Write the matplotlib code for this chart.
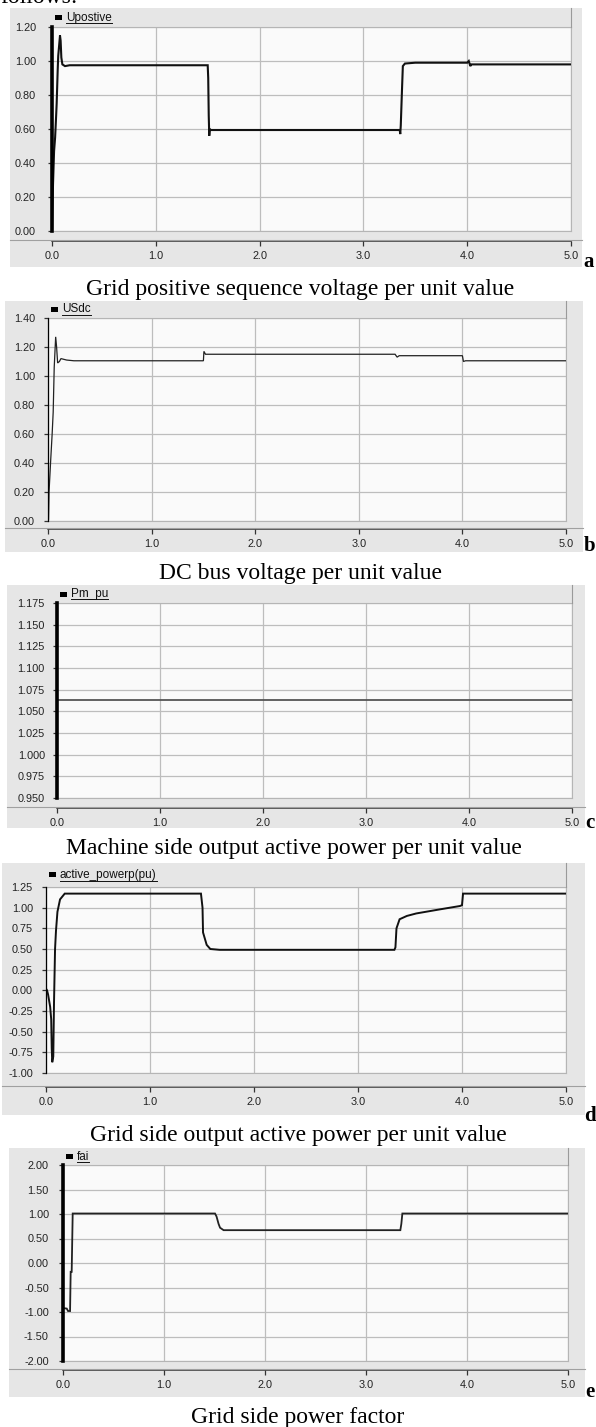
import matplotlib
matplotlib.use('Agg')
import matplotlib.pyplot as plt
from matplotlib.patches import Rectangle
from matplotlib.lines import Line2D

# ---------------- data ----------------
panel_letters = ['a', 'b', 'c', 'd', 'e']
series_names = ['Upostive', 'USdc', 'Pm_pu', 'active_powerp(pu)', 'fai']
captions = ['Grid positive sequence voltage per unit value',
            'DC bus voltage per unit value',
            'Machine side output active power per unit value',
            'Grid side output active power per unit value',
            'Grid side power factor']

x_ticks = [0.0, 1.0, 2.0, 3.0, 4.0, 5.0]
x_tick_labels = ['0.0', '1.0', '2.0', '3.0', '4.0', '5.0']

yticks_a = [0.0, 0.2, 0.4, 0.6, 0.8, 1.0, 1.2]
ylabels_a = ['0.00', '0.20', '0.40', '0.60', '0.80', '1.00', '1.20']
yticks_b = [0.0, 0.2, 0.4, 0.6, 0.8, 1.0, 1.2, 1.4]
ylabels_b = ['0.00', '0.20', '0.40', '0.60', '0.80', '1.00', '1.20', '1.40']
yticks_c = [0.950, 0.975, 1.000, 1.025, 1.050, 1.075, 1.100, 1.125, 1.150, 1.175]
ylabels_c = ['0.950', '0.975', '1.000', '1.025', '1.050', '1.075', '1.100', '1.125', '1.150', '1.175']
yticks_d = [-1.0, -0.75, -0.5, -0.25, 0.0, 0.25, 0.5, 0.75, 1.0, 1.25]
ylabels_d = ['-1.00', '-0.75', '-0.50', '-0.25', '0.00', '0.25', '0.50', '0.75', '1.00', '1.25']
yticks_e = [-2.0, -1.5, -1.0, -0.5, 0.0, 0.5, 1.0, 1.5, 2.0]
ylabels_e = ['-2.00', '-1.50', '-1.00', '-0.50', '0.00', '0.50', '1.00', '1.50', '2.00']

# Upostive (grid positive sequence voltage, pu)
t_a = [0.0, 0.003, 0.01, 0.02, 0.03, 0.04, 0.045, 0.05, 0.055, 0.06, 0.07, 0.077, 0.083,
       0.09, 0.10, 0.125, 0.17, 1.50, 1.505, 1.51, 1.515, 1.52, 1.53, 3.35, 3.355,
       3.36, 3.37, 3.38, 3.40, 3.50, 4.00, 4.015, 4.03, 4.04, 5.0]
u_a = [0.0, 0.10, 0.28, 0.47, 0.55, 0.68, 0.75, 0.85, 0.95, 1.03, 1.10, 1.15, 1.12,
       1.02, 0.98, 0.97, 0.975, 0.975, 0.90, 0.68, 0.56, 0.60, 0.594, 0.594, 0.57,
       0.62, 0.80, 0.97, 0.985, 0.99, 0.99, 1.00, 0.97, 0.98, 0.98]

# USdc (DC bus voltage, pu)
t_b = [0.0, 0.005, 0.01, 0.026, 0.04, 0.05, 0.06, 0.074, 0.083, 0.093, 0.11, 0.125,
       0.18, 0.25, 1.50, 1.505, 1.52, 3.35, 3.37, 3.39, 4.00, 4.01, 4.03, 5.0]
u_b = [0.0, 0.01, 0.20, 0.42, 0.60, 0.75, 1.06, 1.27, 1.20, 1.09, 1.10, 1.12,
       1.11, 1.105, 1.105, 1.17, 1.15, 1.15, 1.13, 1.14, 1.14, 1.10, 1.105, 1.105]

# Pm_pu (machine side active power, pu)
t_c = [0.0, 5.0]
u_c = [1.063, 1.063]

# active_powerp(pu) (grid side active power, pu)
t_d = [0.0, 0.01, 0.02, 0.04, 0.05, 0.055, 0.06, 0.07, 0.077, 0.087, 0.096, 0.11,
       0.135, 0.18, 1.49, 1.505, 1.51, 1.545, 1.58, 1.67, 3.35, 3.36, 3.37, 3.40,
       3.47, 3.56, 3.79, 3.98, 4.00, 4.01, 5.0]
u_d = [0.02, 0.0, -0.05, -0.2, -0.35, -0.7, -0.87, -0.8, -0.15, 0.5, 0.72, 0.95,
       1.1, 1.17, 1.17, 1.0, 0.7, 0.55, 0.5, 0.49, 0.49, 0.52, 0.75, 0.86,
       0.90, 0.93, 0.98, 1.02, 1.03, 1.17, 1.17]

# fai (grid side power factor)
t_e = [0.0, 0.037, 0.05, 0.07, 0.076, 0.086, 0.096, 1.505, 1.52, 1.54, 1.555, 1.59,
       3.34, 3.35, 3.36, 5.0]
u_e = [-0.92, -0.93, -0.98, -0.98, -0.18, -0.18, 1.01, 1.01, 0.95, 0.80, 0.72, 0.67,
       0.67, 0.80, 1.01, 1.01]

# ---------------- layout (pixels) ----------------
W, H = 596, 1427
fig = plt.figure(figsize=(W / 100, H / 100), dpi=100)
fig.patch.set_facecolor('white')


def fx(x):
    return x / W


def fy(y):
    return 1 - y / H


layout = [
    dict(box=(10, 582, 8, 267), plot=(52, 571, 27, 231), xaxis=241, ypad=12, cap=(300, 289), letter=(583, 267)),
    dict(box=(5, 583, 301, 552), plot=(48, 566, 318, 521), xaxis=529, ypad=9, cap=(300, 574), letter=(584, 551)),
    dict(box=(7, 585, 585, 828), plot=(57, 572, 603, 798), xaxis=808, ypad=8, cap=(294, 849), letter=(585, 828)),
    dict(box=(2, 585, 863, 1115), plot=(46, 566, 887, 1073), xaxis=1087, ypad=9, cap=(298, 1136), letter=(584, 1121)),
    dict(box=(9, 585, 1148, 1397), plot=(63, 568, 1165, 1361), xaxis=1370, ypad=10, cap=(298, 1418), letter=(585, 1397)),
]

times = [t_a, t_b, t_c, t_d, t_e]
values = [u_a, u_b, u_c, u_d, u_e]
yticks = [yticks_a, yticks_b, yticks_c, yticks_d, yticks_e]
ylabels = [ylabels_a, ylabels_b, ylabels_c, ylabels_d, ylabels_e]
line_styles = [dict(color='#111111', lw=1.5), dict(color='#222222', lw=0.9),
               dict(color='#555555', lw=1.3), dict(color='#111111', lw=1.4),
               dict(color='#222222', lw=1.3)]
thick_left = [True, False, True, False, True]

tick_font = dict(family=['Liberation Sans', 'DejaVu Sans'], size=7.8)
serif = ['Liberation Serif', 'DejaVu Serif']
legend_texts = []

# partially visible line of body text at the very top
fig.text(fx(0), fy(3), 'follows:', family=serif, fontsize=17, ha='left', va='baseline', color='black')

for i in range(5):
    L = layout[i]
    bx0, bx1, by0, by1 = L['box']
    px0, px1, pt, pb = L['plot']
    # gray frame
    fig.patches.append(Rectangle((fx(bx0), fy(by1)), fx(bx1 - bx0), (by1 - by0) / H,
                                 transform=fig.transFigure, facecolor='#e6e6e6',
                                 edgecolor='none', zorder=-1))
    # header right vertical line
    fig.lines.append(Line2D([fx(px1), fx(px1)], [fy(by0), fy(pt)], transform=fig.transFigure,
                            color='#9a9a9a', lw=0.8))
    # plot axes
    ax = fig.add_axes([fx(px0), fy(pb), fx(px1 - px0), (pb - pt) / H])
    ax.set_facecolor('#fafafa')
    ax.plot(times[i], values[i], color=line_styles[i]['color'], lw=line_styles[i]['lw'],
            solid_joinstyle='miter', zorder=3)
    ax.set_xlim(0, 5)
    ax.set_ylim(yticks[i][0], yticks[i][-1])
    ax.set_xticks(x_ticks)
    ax.set_yticks(yticks[i])
    ax.set_yticklabels(ylabels[i], **tick_font)
    ax.tick_params(axis='x', which='both', bottom=False, labelbottom=False)
    ax.tick_params(axis='y', direction='out', length=3, width=0.9, color='#333333',
                   pad=L['ypad'] * 0.72, labelcolor='#222222')
    ax.grid(True, color='#bdbdbd', lw=0.9)
    ax.set_axisbelow(True)
    for s in ['top', 'right', 'bottom']:
        ax.spines[s].set_color('#b5b5b5')
        ax.spines[s].set_linewidth(0.8)
    ax.spines['left'].set_color('black')
    ax.spines['left'].set_linewidth(2.6 if thick_left[i] else 0.9)
    ax.spines['left'].set_zorder(5)

    # x-axis strip
    fig.lines.append(Line2D([fx(bx0), fx(bx1)], [fy(L['xaxis'] - 1), fy(L['xaxis'] - 1)],
                            transform=fig.transFigure, color='#a0a0a0', lw=0.8))
    axx = fig.add_axes([fx(px0), fy(L['xaxis']), fx(px1 - px0), 0.0001])
    axx.set_facecolor('none')
    for s in ['top', 'right', 'left']:
        axx.spines[s].set_visible(False)
    axx.spines['bottom'].set_color('#333333')
    axx.spines['bottom'].set_linewidth(1.1)
    axx.set_xlim(0, 5)
    axx.set_xticks(x_ticks)
    axx.set_xticklabels(x_tick_labels, **tick_font)
    axx.set_yticks([])
    axx.tick_params(axis='x', direction='out', length=3.5, width=0.9, color='#333333',
                    pad=4, labelcolor='#222222')

    # legend in header
    lx = px0 + 3
    ly = (by0 + pt) / 2
    fig.patches.append(Rectangle((fx(lx), fy(ly + 2.5)), fx(7), 5 / H, transform=fig.transFigure,
                                 facecolor='black', edgecolor='none', zorder=4))
    txt = fig.text(fx(lx + 11), fy(ly), series_names[i], family=['Liberation Sans', 'DejaVu Sans'],
                   fontsize=8.5, ha='left', va='center', color='#111111')
    legend_texts.append(txt)

    # caption and letter
    cx, cy = L['cap']
    fig.text(fx(cx), fy(cy), captions[i], family=serif,
             fontsize=17, ha='center', va='center', color='black')
    lxx, lyy = L['letter']
    fig.text(fx(lxx), fy(lyy), panel_letters[i], family=serif,
             fontsize=15, fontweight='bold', ha='left', va='baseline', color='black')

# underline legend labels
fig.canvas.draw()
renderer = fig.canvas.get_renderer()
for txt in legend_texts:
    bb = txt.get_window_extent(renderer)
    fig.lines.append(Line2D([bb.x0 / W, bb.x1 / W], [(bb.y0 + 0.5) / H, (bb.y0 + 0.5) / H],
                            transform=fig.transFigure, color='#111111', lw=0.7))

fig.savefig('out.png', dpi=100, facecolor='white')
